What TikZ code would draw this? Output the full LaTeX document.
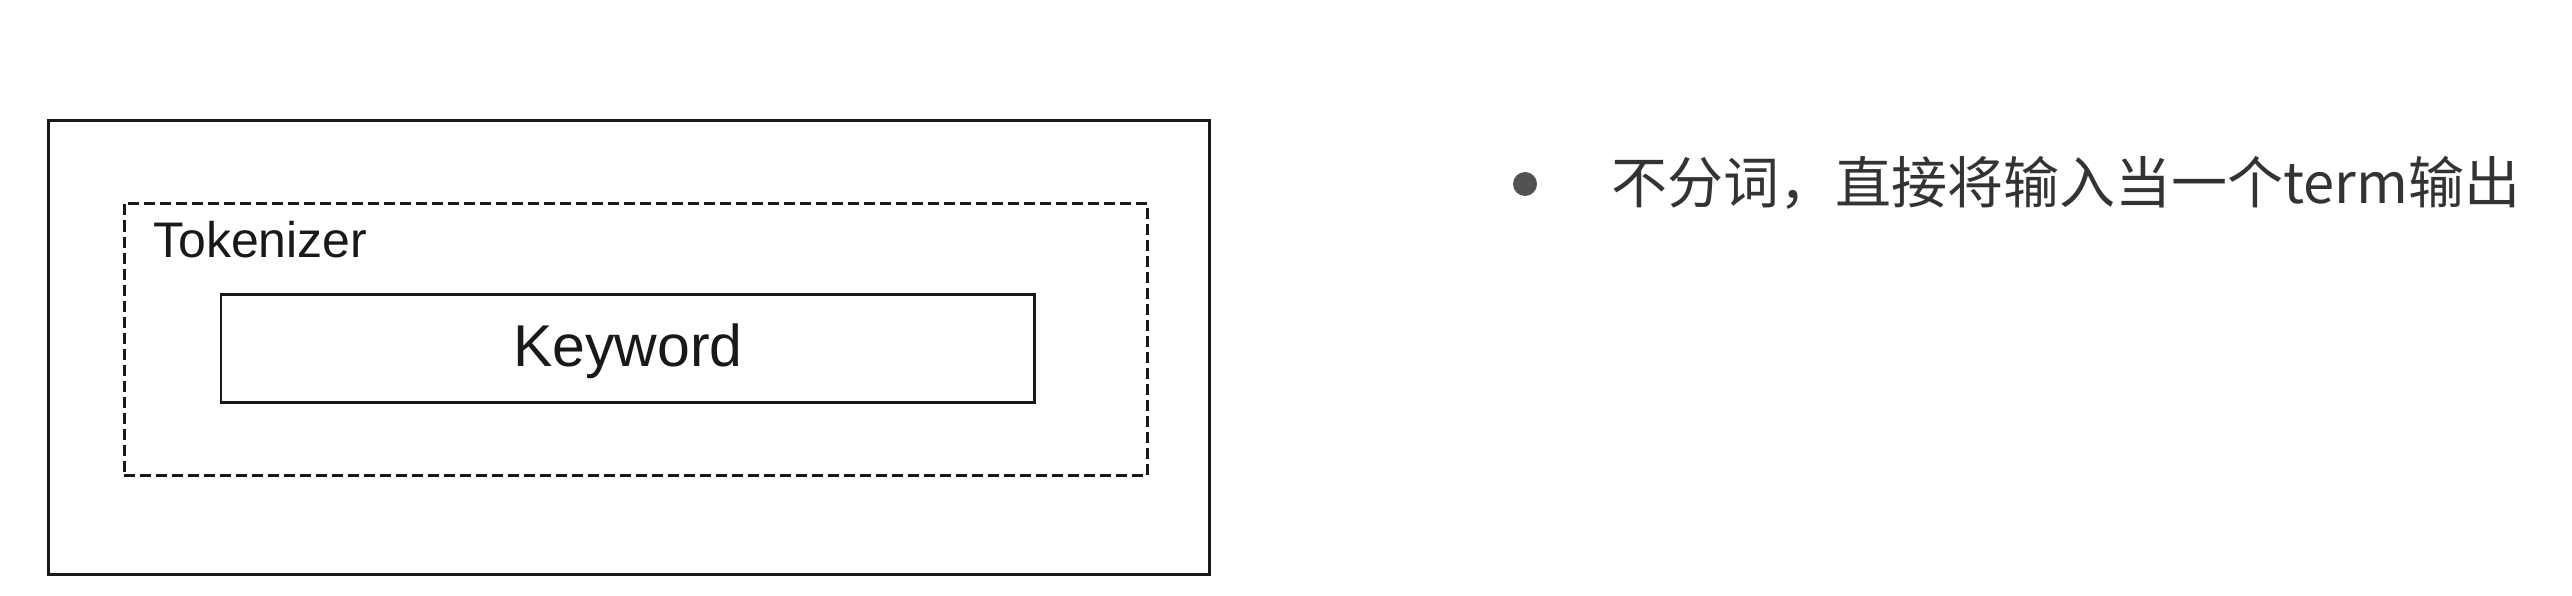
\documentclass[tikz,border=0pt]{standalone}
\usepackage{fontspec}
\setmainfont{Liberation Sans}
\newfontfamily\cjk{Noto Sans CJK SC}
\begin{document}
\begin{tikzpicture}[x=1pt,y=-1pt,
  box/.style={draw=black!90, line width=3pt, rectangle, inner sep=0pt},
  dbox/.style={draw=black!90, line width=2.6pt, rectangle, inner sep=0pt, dash pattern=on 11pt off 5pt},
  kbox/.style={draw=black!90, line width=2.6pt, rectangle, inner sep=0pt},
  lbl/.style={inner sep=0pt, text=black!90},
  txt/.style={inner sep=0pt, text=black!80, font=\cjk\fontsize{56}{60}\selectfont}
]
\useasboundingbox (0,0) rectangle (2572,596);
\node[box, minimum width=1161pt, minimum height=454pt] (outer) at (628.7,347.6) {};
\node[dbox, minimum width=1023.4pt, minimum height=272pt] (tok) at (636,339.3) {};
\node[kbox, minimum width=813.3pt, minimum height=108.4pt] (kw) at (627.7,348.5) {};
\node[lbl, font=\fontsize{59}{62}\selectfont, anchor=base] (kwt) at (628,366) {Keyword};
\node[lbl, font=\fontsize{50}{54}\selectfont, anchor=base west] (tokl) at (153,258) {Tokenizer};
\node[circle, fill=black!68, minimum size=24pt, inner sep=0pt] (bul) at (1525,184) {};
\node[txt, anchor=base west] (desc) at (1611,204) {不分词，直接将输入当一个term输出};
\end{tikzpicture}
\end{document}
